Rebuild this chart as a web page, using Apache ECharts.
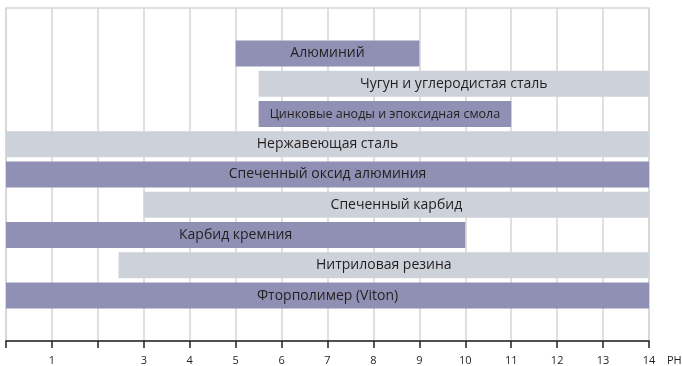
<!DOCTYPE html>
<html>
<head>
<meta charset="utf-8">
<script src="https://cdn.jsdelivr.net/npm/echarts@6/dist/echarts.min.js"></script>
<style>
  html, body { margin: 0; padding: 0; background: #ffffff; }
  #chart { width: 682px; height: 366px; }
</style>
</head>
<body>
<div id="chart"></div>
<script>
// Materials and the pH range each one tolerates
const materials = [
  'Алюминий',
  'Чугун и углеродистая сталь',
  'Цинковые аноды и эпоксидная смола',
  'Нержавеющая сталь',
  'Спеченный оксид алюминия',
  'Спеченный карбид',
  'Карбид кремния',
  'Нитриловая резина',
  'Фторполимер (Viton)'
];
const phFrom = [5, 5.5, 5.5, 0, 0, 3, 0, 2.45, 0];
const phTo   = [9, 14, 11, 14, 14, 14, 10, 14, 14];
const phTicks = [0, 1, 2, 3, 4, 5, 6, 7, 8, 9, 10, 11, 12, 13, 14];
const phTickLabels = ['', '1', '', '3', '4', '5', '6', '7', '8', '9', '10', '11', '12', '13', '14'];

const DARK = '#9090b4';
const LIGHT = '#cdd1da';
const FONT = '"Open Sans", "Noto Sans", sans-serif';

// one empty row above and below the list of materials
const rows = [' '].concat(materials, ['  ']);

const baseData = [null];
const spanData = [null];
materials.forEach((name, i) => {
  baseData.push(phFrom[i]);
  const item = {
    value: phTo[i] - phFrom[i],
    itemStyle: { color: i % 2 === 0 ? DARK : LIGHT }
  };
  // the longest name is set a little smaller so it fits its bar
  if (name.length > 30) {
    item.label = { fontSize: 12.5 };
  }
  spanData.push(item);
});
baseData.push(null);
spanData.push(null);

const chart = echarts.init(document.getElementById('chart'), null, { renderer: 'canvas' });

chart.setOption({
  animation: false,
  backgroundColor: '#ffffff',
  grid: {
    left: 6, right: 33, top: 8, bottom: 25,
    outerBoundsMode: 'none',
    show: true, borderColor: '#d6d6d6', borderWidth: 1.5,
    containLabel: false
  },
  xAxis: {
    type: 'value',
    min: phTicks[0],
    max: phTicks[phTicks.length - 1],
    interval: 1,
    name: 'PH',
    nameLocation: 'end',
    nameGap: 18,
    nameTextStyle: {
      fontFamily: FONT, fontSize: 11, color: '#231f20',
      verticalAlign: 'top', padding: [14, 0, 0, 0]
    },
    axisLine: { show: true, lineStyle: { color: '#231f20', width: 1.5 } },
    axisTick: { show: true, length: 7, inside: false, lineStyle: { color: '#231f20', width: 1.5 } },
    axisLabel: {
      margin: 14,
      fontFamily: FONT, fontSize: 11, color: '#231f20',
      formatter: v => phTickLabels[phTicks.indexOf(v)] || ''
    },
    splitLine: { show: true, lineStyle: { color: '#d6d6d6', width: 1.5 } }
  },
  yAxis: {
    type: 'category',
    data: rows,
    inverse: true,
    axisLine: { show: false },
    axisTick: { show: false },
    axisLabel: { show: false },
    splitLine: { show: false }
  },
  series: [
    {
      type: 'bar',
      stack: 'range',
      data: baseData,
      barWidth: 26,
      itemStyle: { color: 'transparent' },
      silent: true
    },
    {
      type: 'bar',
      stack: 'range',
      data: spanData,
      barWidth: 26,
      label: {
        show: true,
        position: 'inside',
        color: '#231f20',
        fontFamily: FONT,
        fontSize: 14,
        formatter: p => materials[p.dataIndex - 1]
      }
    }
  ]
});
</script>
</body>
</html>
